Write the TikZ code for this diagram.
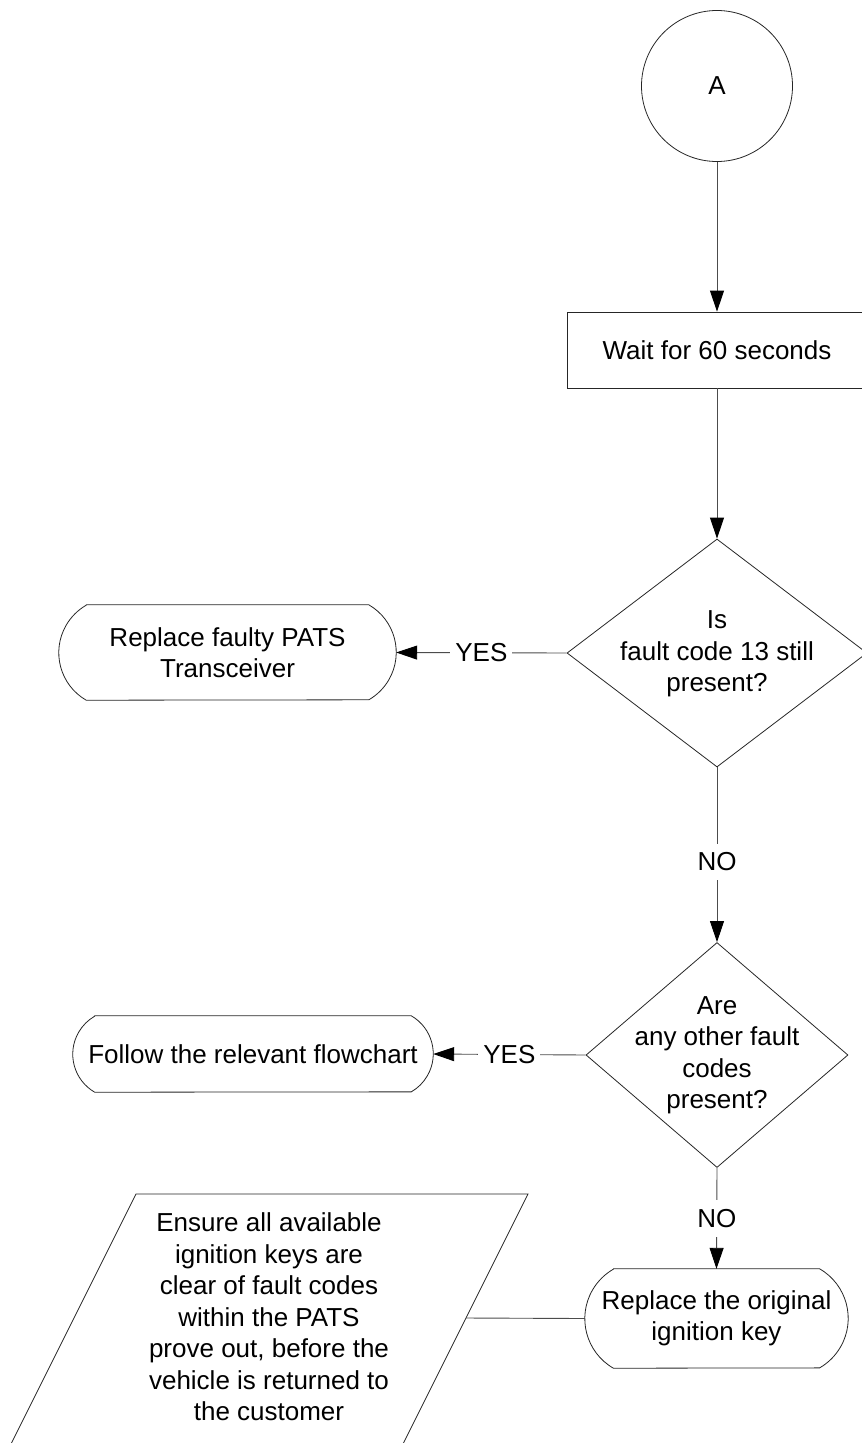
\documentclass[tikz,border=0pt]{standalone}
\usepackage{fontspec}
\setmainfont{Liberation Sans}
\usetikzlibrary{shapes.geometric,arrows.meta}
% outline of a terminator: node name, end bulge, arc radius (120 degree arcs)
\newcommand{\drawterm}[3]{%
  \draw[outline] ([xshift=#2]#1.north west) -- ([xshift=-#2]#1.north east)
    arc[start angle=60, end angle=-60, radius=#3]
    -- ([xshift=#2]#1.south west)
    arc[start angle=240, end angle=120, radius=#3] -- cycle;}
\begin{document}
\begin{tikzpicture}[x=1pt,y=-1pt,
  every node/.style={font=\fontsize{26}{31.5}\selectfont, text=black},
  outline/.style={draw=black!85, line width=0.8pt},
  term/.style={rectangle, inner sep=0pt, align=center},
  proc/.style={outline, rectangle, inner sep=0pt, align=center},
  dia/.style={outline, diamond, inner sep=0pt},
  conn/.style={draw=black!70, line width=0.9pt},
  arr/.style={conn, -{Triangle[length=21pt,width=14pt,color=black]}},
  lab/.style={fill=white, inner xsep=5pt, inner ysep=9pt},
  txt/.style={align=center, inner sep=0pt}
]
\useasboundingbox (0,0) rectangle (862,1443);
\clip (0,0) rectangle (862,1443);

% nodes
\node[outline, circle, minimum size=151pt, inner sep=0pt] (A) at (717,86) {A};
\node[proc, minimum width=300pt, minimum height=76pt] (wait) at (717,350) {Wait for 60 seconds};

\node[dia, minimum width=300pt, minimum height=228pt] (d1) at (717,653) {};
\node[txt] (d1t) at (717,654) {Is\\fault code 13 still\\present?};

\node[dia, minimum width=262pt, minimum height=225pt] (d2) at (717,1055) {};
\node[txt] (d2t) at (717,1055) {Are\\any other fault\\codes\\present?};

\node[term, minimum width=337pt, minimum height=95pt] (t1) at (227.5,652.5) {Replace faulty PATS\\Transceiver};
\drawterm{t1}{27.4pt}{54.85pt}
\node[term, minimum width=360pt, minimum height=76pt] (t2) at (253,1054) {Follow the relevant flowchart};
\drawterm{t2}{21.9pt}{43.9pt}
\node[term, minimum width=263pt, minimum height=99pt] (t3) at (716.5,1318.5) {Replace the original\\ignition key};
\drawterm{t3}{28.6pt}{57.2pt}

% parallelogram (input/output)
\coordinate (p1) at (136,1194);
\coordinate (p2) at (528,1194);
\coordinate (p3) at (402,1446);
\coordinate (p4) at (10,1446);
\draw[outline] (p1) -- (p2) -- (p3) -- (p4) -- cycle;
\coordinate (pr) at (466,1318);
\node[txt] (pt) at (269,1317) {Ensure all available\\ignition keys are\\clear of fault codes\\within the PATS\\prove out, before the\\vehicle is returned to\\the customer};

% connectors
\draw[arr] (A.south) -- (wait.north);
\draw[arr] (wait.south) -- (d1.north);
\draw[arr] (d1.west) -- node[lab] {YES} (t1.east);
\draw[arr] (d1.south) -- node[lab, pos=0.54] {NO} (d2.north);
\draw[arr] (d2.west) -- node[lab] {YES} (t2.east);
\draw[arr] (d2.south) -- node[lab] {NO} (t3.north);
\draw[conn] (t3.west) -- (pr);
\end{tikzpicture}
\end{document}
